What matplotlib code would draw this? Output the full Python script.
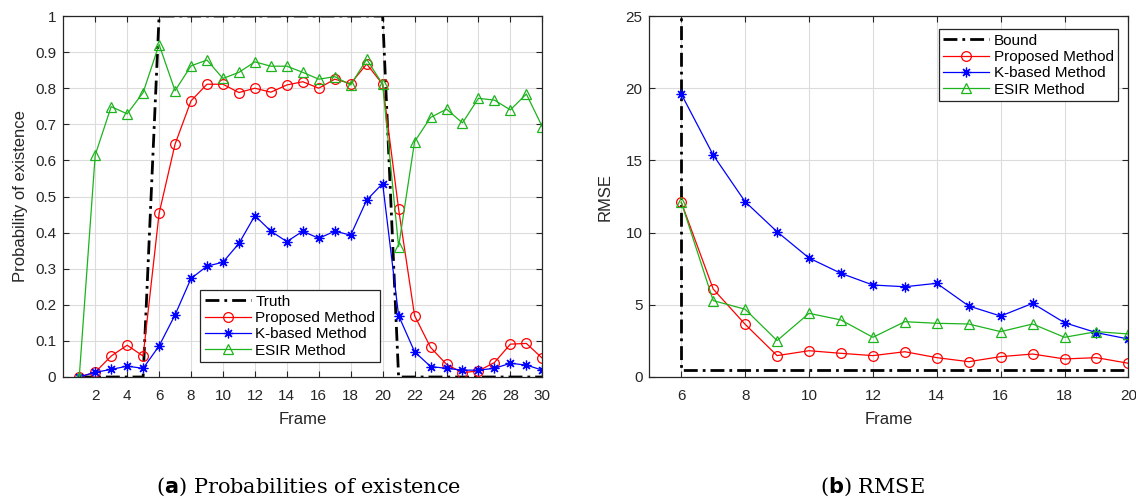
import matplotlib.pyplot as plt

plt.rcParams['font.family'] = ['Liberation Sans', 'DejaVu Sans']

# 存在概率数据 (帧 1-30)
frames = list(range(1, 31))
truth = [0, 0, 0, 0, 0] + [1] * 15 + [0] * 10
proposed = [0, 0.013, 0.058, 0.088, 0.058, 0.453, 0.645, 0.765, 0.811, 0.811,
            0.788, 0.800, 0.789, 0.809, 0.818, 0.800, 0.825, 0.813, 0.867, 0.811,
            0.465, 0.170, 0.082, 0.035, 0.012, 0.017, 0.040, 0.091, 0.093, 0.052]
kbased = [0, 0.013, 0.021, 0.030, 0.024, 0.086, 0.172, 0.273, 0.307, 0.318,
          0.370, 0.447, 0.404, 0.375, 0.404, 0.384, 0.404, 0.393, 0.490, 0.536,
          0.170, 0.070, 0.029, 0.024, 0.019, 0.019, 0.024, 0.038, 0.033, 0.019]
esir = [0, 0.615, 0.749, 0.729, 0.788, 0.921, 0.793, 0.862, 0.878, 0.827,
        0.844, 0.873, 0.861, 0.861, 0.844, 0.825, 0.832, 0.809, 0.880, 0.811,
        0.361, 0.652, 0.719, 0.742, 0.704, 0.772, 0.767, 0.740, 0.784, 0.693]

# RMSE数据 (帧 6-20)
rmse_frames = list(range(6, 21))
bound_level = 0.5
rmse_proposed = [12.1, 6.09, 3.65, 1.48, 1.82, 1.64, 1.48, 1.75, 1.34, 1.06,
                 1.41, 1.59, 1.25, 1.34, 0.95]
rmse_kbased = [19.6, 15.37, 12.14, 10.06, 8.24, 7.18, 6.37, 6.25, 6.49, 4.92,
               4.22, 5.10, 3.76, 3.07, 2.63]
rmse_esir = [12.1, 5.29, 4.69, 2.52, 4.41, 3.95, 2.75, 3.83, 3.72, 3.67,
             3.14, 3.67, 2.75, 3.14, 2.98]

red = '#ff0000'
blue = '#0000ff'
green = '#1db31d'
dashdot = (0, (5, 1.8, 1, 1.8))
asterisk = (8, 2, 0)
txt = '#262626'

fig = plt.figure(figsize=(11.36, 4.99), dpi=100)
ax1 = fig.add_axes([0.0557, 0.2445, 0.4217, 0.7234])
ax2 = fig.add_axes([0.5716, 0.2445, 0.4217, 0.7234])

def style_axes(ax):
    ax.grid(True, color='#dcdcdc', lw=0.8)
    ax.set_axisbelow(True)
    ax.tick_params(direction='in', top=True, right=True, labelsize=11,
                   colors=txt, length=4, width=0.8, pad=5)
    ax.tick_params(axis='x', pad=9)
    for s in ax.spines.values():
        s.set_color(txt)
        s.set_linewidth(0.9)

mk = dict(mfc='none', ms=7, lw=0.9, mew=0.9)
leg_kw = dict(fontsize=11, handlelength=3.0, handletextpad=0.3, borderpad=0.3,
              labelspacing=0.15, fancybox=False, edgecolor=txt, framealpha=1)

# (a) 存在概率
ax1.plot(frames, truth, color='k', lw=2.0, ls=dashdot, label='Truth')
ax1.plot(frames, proposed, color=red, marker='o', label='Proposed Method', **mk)
ax1.plot(frames, kbased, color=blue, marker=asterisk, label='K-based Method', **mk)
ax1.plot(frames, esir, color=green, marker='^', label='ESIR Method', **mk)
ax1.set_xlim(0, 30)
ax1.set_ylim(0, 1)
ax1.set_xticks(range(2, 31, 2))
ax1.set_yticks([i / 10 for i in range(11)])
ax1.set_yticklabels(['0'] + ['%.1f' % (i / 10) for i in range(1, 10)] + ['1'])
ax1.set_xlabel('Frame', fontsize=12, color=txt, labelpad=6)
ax1.set_ylabel('Probability of existence', fontsize=12, color=txt, labelpad=5)
style_axes(ax1)
leg1 = ax1.legend(loc='lower left', bbox_to_anchor=(0.27, 0.02), **leg_kw)
leg1.get_frame().set_linewidth(0.9)

# (b) RMSE
ax2.plot([rmse_frames[0]] * 2 + rmse_frames[1:],
         [30, bound_level] + [bound_level] * (len(rmse_frames) - 1),
         color='k', lw=2.0, ls=dashdot, label='Bound')
ax2.plot(rmse_frames, rmse_proposed, color=red, marker='o', label='Proposed Method', **mk)
ax2.plot(rmse_frames, rmse_kbased, color=blue, marker=asterisk, label='K-based Method', **mk)
ax2.plot(rmse_frames, rmse_esir, color=green, marker='^', label='ESIR Method', **mk)
ax2.set_xlim(5, 20)
ax2.set_ylim(0, 25)
ax2.set_xticks(range(6, 21, 2))
ax2.set_yticks(range(0, 26, 5))
ax2.set_xlabel('Frame', fontsize=12, color=txt, labelpad=6)
ax2.set_ylabel('RMSE', fontsize=12, color=txt, labelpad=9)
style_axes(ax2)
leg2 = ax2.legend(loc='upper right', bbox_to_anchor=(0.995, 0.985), **leg_kw)
leg2.get_frame().set_linewidth(0.9)

# 子图标题
fig.text(0.272, 0.012, r'($\mathbf{a}$) Probabilities of existence', fontsize=15,
         family='DejaVu Serif', ha='center', va='baseline')
fig.text(0.768, 0.012, r'($\mathbf{b}$) RMSE', fontsize=15,
         family='DejaVu Serif', ha='center', va='baseline')

fig.savefig('out.png', dpi=100)
